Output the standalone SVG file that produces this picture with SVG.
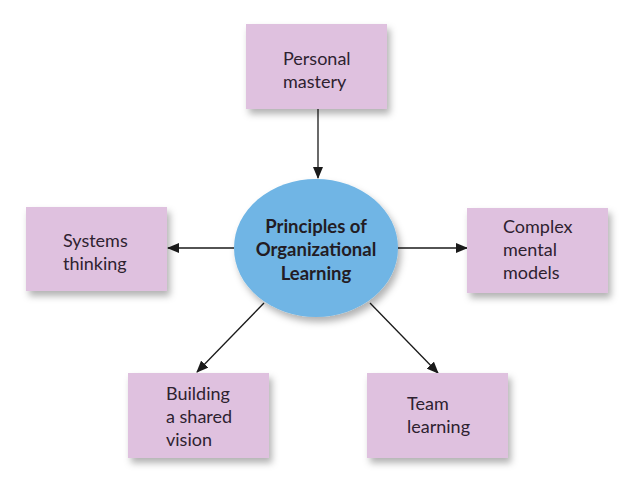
<svg xmlns="http://www.w3.org/2000/svg" width="638" height="488" viewBox="0 0 638 488">
<style>
.box{fill:#dfc1df;filter:url(#sh);}
.t{font-family:Lato,"Open Sans","DejaVu Sans",sans-serif;font-size:18px;fill:#2e2230;}
.c{font-family:Lato,"Open Sans","DejaVu Sans",sans-serif;font-size:18.5px;font-weight:bold;fill:#231c24;text-anchor:middle;}
.ln{stroke:#1a1a1a;stroke-width:1.3;fill:none;marker-end:url(#ah);}
</style>
<defs>
<filter id="sh" x="-20%" y="-20%" width="150%" height="160%">
<feDropShadow dx="3" dy="5" stdDeviation="3.5" flood-color="#000" flood-opacity="0.3"/>
</filter>
<marker id="ah" markerWidth="12" markerHeight="10" refX="11" refY="5" orient="auto" markerUnits="userSpaceOnUse">
<path d="M0,0 L12,5 L0,10 Z" fill="#1a1a1a"/>
</marker>
</defs>
<rect width="638" height="488" fill="#ffffff"/>
<g id="connectors">
<line class="ln" x1="318" y1="109" x2="318" y2="178"/>
<line class="ln" x1="234" y1="248" x2="168" y2="248"/>
<line class="ln" x1="398" y1="248" x2="467" y2="248"/>
<line class="ln" x1="264" y1="303" x2="197" y2="372"/>
<line class="ln" x1="370" y1="303" x2="438" y2="373"/>
</g>
<g id="center">
<ellipse cx="316" cy="248" rx="82" ry="69" fill="#6fb5e5" filter="url(#sh)"/>
<text class="c" x="316" y="233">Principles of</text>
<text class="c" x="316" y="256">Organizational</text>
<text class="c" x="316" y="280">Learning</text>
</g>
<g id="personal-mastery">
<rect class="box" x="246" y="24" width="141" height="85"/>
<text class="t" x="283" y="65">Personal</text>
<text class="t" x="283" y="88">mastery</text>
</g>
<g id="systems-thinking">
<rect class="box" x="26" y="207" width="141" height="84"/>
<text class="t" x="63" y="247">Systems</text>
<text class="t" x="63" y="270">thinking</text>
</g>
<g id="complex-mental-models">
<rect class="box" x="467" y="208" width="141" height="85"/>
<text class="t" x="503" y="233">Complex</text>
<text class="t" x="503" y="256">mental</text>
<text class="t" x="503" y="279">models</text>
</g>
<g id="building-shared-vision">
<rect class="box" x="128" y="373" width="141" height="85"/>
<text class="t" x="166" y="400">Building</text>
<text class="t" x="166" y="423">a shared</text>
<text class="t" x="166" y="446">vision</text>
</g>
<g id="team-learning">
<rect class="box" x="367" y="373" width="141" height="85"/>
<text class="t" x="407" y="410">Team</text>
<text class="t" x="407" y="433">learning</text>
</g>
</svg>
